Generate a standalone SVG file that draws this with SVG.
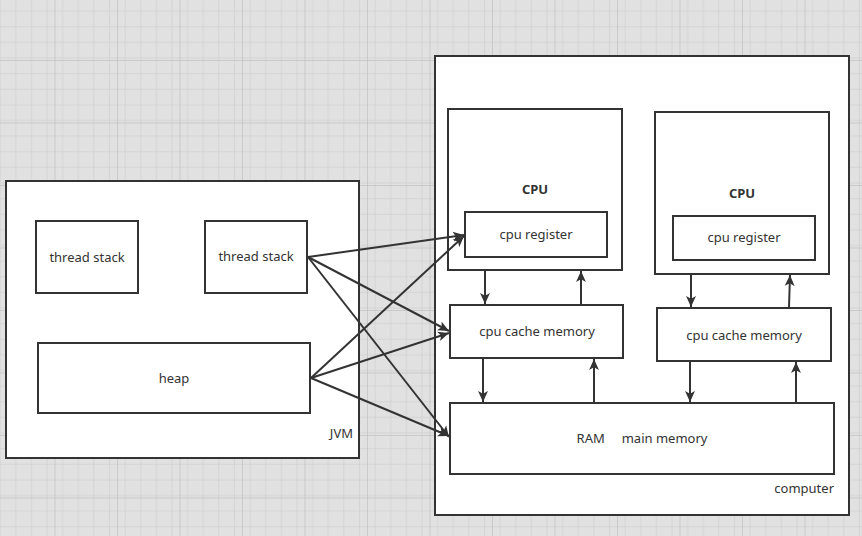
<svg xmlns="http://www.w3.org/2000/svg" width="862" height="536" viewBox="0 0 862 536">
<defs>
<pattern id="minor" x="-8" y="-2.5" width="15.625" height="15.625" patternUnits="userSpaceOnUse">
<path d="M0 0H15.625M0 0V15.625" fill="none" stroke="#d0d0d0" stroke-width="1.5"/>
</pattern>
<pattern id="major" x="-8" y="-2.5" width="62.5" height="62.5" patternUnits="userSpaceOnUse">
<rect width="62.5" height="62.5" fill="url(#minor)"/>
<path d="M0 0H62.5M0 0V62.5" fill="none" stroke="#c2c2c2" stroke-width="1.5"/>
</pattern>
<marker id="ah" viewBox="0 0 10 10" refX="10" refY="5" markerWidth="11" markerHeight="11" markerUnits="userSpaceOnUse" orient="auto">
<path d="M0 0.5L10 5L0 9.5L2.5 5Z" fill="#333"/>
</marker>
<style>
.box{fill:#fff;stroke:#333;stroke-width:2}
.t{font-family:"Noto Sans","Liberation Sans",sans-serif;font-size:13px;fill:#333;text-anchor:middle}
.b{font-weight:bold}
.e{text-anchor:end}
.c{fill:none;stroke:#333;stroke-width:2;marker-end:url(#ah)}
</style>
</defs>
<rect width="862" height="536" fill="#e1e1e1"/>
<rect width="862" height="536" fill="url(#major)"/>

<g id="jvm">
<rect class="box" x="6" y="181" width="353" height="277"/>
<text class="t e" x="353" y="438">JVM</text>
</g>
<g id="thread-stack-1">
<rect class="box" x="36" y="221" width="102" height="72"/>
<text class="t" x="87" y="262">thread stack</text>
</g>
<g id="thread-stack-2">
<rect class="box" x="205" y="221" width="102" height="72"/>
<text class="t" x="256" y="261">thread stack</text>
</g>
<g id="heap">
<rect class="box" x="38" y="343" width="272" height="70"/>
<text class="t" x="174" y="383">heap</text>
</g>

<g id="computer">
<rect class="box" x="435" y="56" width="414" height="459"/>
<text class="t e" x="834" y="493">computer</text>
</g>
<g id="cpu-1">
<rect class="box" x="448" y="109" width="174" height="161"/>
<text class="t b" x="535" y="194">CPU</text>
</g>
<g id="cpu-register-1">
<rect class="box" x="465" y="212" width="142" height="45"/>
<text class="t" x="536" y="239">cpu register</text>
</g>
<g id="cpu-2">
<rect class="box" x="655" y="112" width="174" height="162"/>
<text class="t b" x="742" y="198">CPU</text>
</g>
<g id="cpu-register-2">
<rect class="box" x="673" y="216" width="142" height="44"/>
<text class="t" x="744" y="242">cpu register</text>
</g>
<g id="cache-1">
<rect class="box" x="450" y="305" width="173" height="53"/>
<text class="t" x="537" y="336">cpu cache memory</text>
</g>
<g id="cache-2">
<rect class="box" x="657" y="308" width="174" height="53"/>
<text class="t" x="744" y="340">cpu cache memory</text>
</g>
<g id="ram">
<rect class="box" x="450" y="403" width="384" height="71"/>
<text class="t" x="642" y="443" xml:space="preserve">RAM     main memory</text>
</g>

<g id="connectors">
<path class="c" d="M485 271V304"/>
<path class="c" d="M581 304V271"/>
<path class="c" d="M483 359V402"/>
<path class="c" d="M594 402V359"/>
<path class="c" d="M691 275V307"/>
<path class="c" d="M789 307L790 275"/>
<path class="c" d="M690 362V402"/>
<path class="c" d="M796 402V362"/>
<path class="c" d="M308 257L464 235"/>
<path class="c" d="M308 257L449 331"/>
<path class="c" d="M308 257L449 437"/>
<path class="c" d="M311 378L464 236"/>
<path class="c" d="M311 378L449 333"/>
<path class="c" d="M311 378L449 436"/>
</g>
</svg>
